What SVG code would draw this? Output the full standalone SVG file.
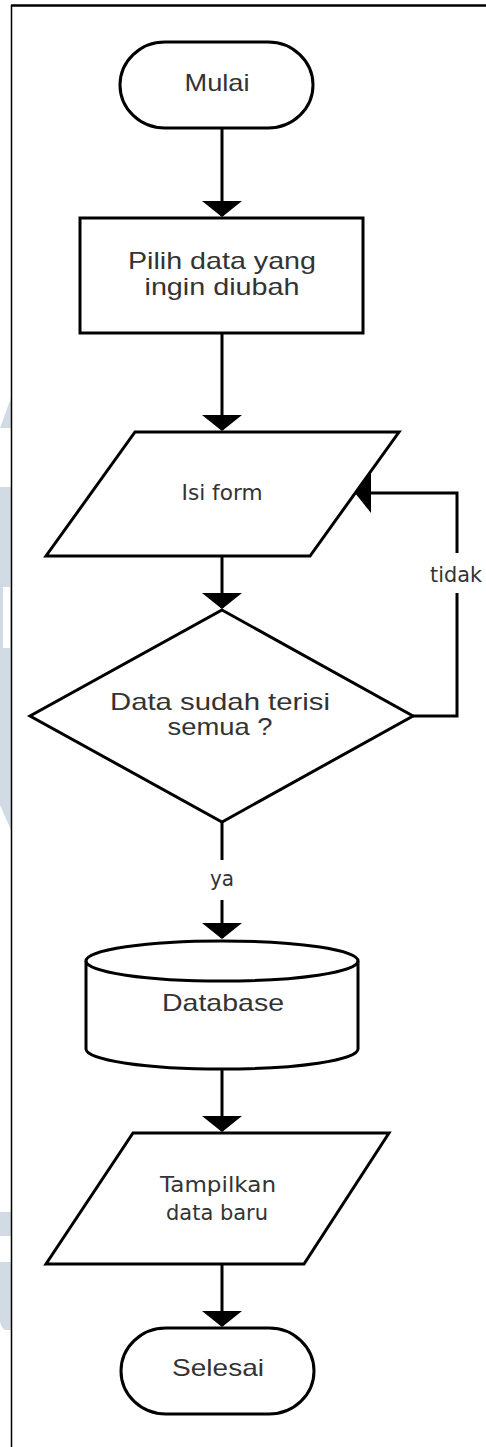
<svg xmlns="http://www.w3.org/2000/svg" width="486" height="1447" viewBox="0 0 486 1447">
  <style>
    .shape { fill: #ffffff; stroke: #000000; stroke-width: 3; }
    .flow { fill: none; stroke: #000000; stroke-width: 3; }
    .lbl { fill: #333333; text-anchor: middle; font-family: "Liberation Sans", Arial, sans-serif; font-size: 24px; }
    .lbl2 { fill: #333333; text-anchor: middle; font-family: "DejaVu Sans", Verdana, sans-serif; font-size: 21px; }
    .wm { fill: #d2dbe4; }
  </style>
  <defs>
    <marker id="head" markerUnits="userSpaceOnUse" viewBox="0 0 16 40" markerWidth="16" markerHeight="40" refX="15" refY="20" orient="auto">
      <path d="M0,0 L16,20 L0,40 Z" fill="#000000"/>
    </marker>
  </defs>

  <rect width="486" height="1447" fill="#ffffff"/>

  <!-- pale backdrop pieces along the left margin -->
  <g id="margin-marks">
    <polygon class="wm" points="0,428 11,398 11,428"/>
    <polygon class="wm" points="0,487 11,487 11,830 0,805"/>
    <rect x="3" y="587" width="7" height="61" fill="#ffffff"/>
    <rect class="wm" x="0" y="1212" width="11" height="24"/>
    <path class="wm" d="M0,1262 H11 V1330 H6 Q2,1330 0,1322 Z"/>
  </g>

  <!-- page frame -->
  <g id="frame">
    <line x1="11" y1="5.5" x2="486" y2="5.5" stroke="#000000" stroke-width="2.5"/>
    <line x1="11.5" y1="5" x2="11.5" y2="1447" stroke="#000000" stroke-width="1.5"/>
  </g>

  <!-- connectors -->
  <g id="connectors">
    <path class="flow" d="M222,128 V216" marker-end="url(#head)"/>
    <path class="flow" d="M222,333 V430" marker-end="url(#head)"/>
    <path class="flow" d="M222,556 V608" marker-end="url(#head)"/>
    <path class="flow" d="M222,822 V860"/>
    <path class="flow" d="M222,900 V938" marker-end="url(#head)"/>
    <path class="flow" d="M222,1069 V1131" marker-end="url(#head)"/>
    <path class="flow" d="M222,1264 V1326" marker-end="url(#head)"/>
    <path class="flow" d="M413,716 H457 V593"/>
    <path class="flow" d="M457,553 V493 H356" marker-end="url(#head)"/>
    <text class="lbl2" x="222" y="886" textLength="24" lengthAdjust="spacingAndGlyphs">ya</text>
    <text class="lbl2" x="456" y="582" textLength="52" lengthAdjust="spacingAndGlyphs">tidak</text>
  </g>

  <g id="start">
    <rect class="shape" x="120" y="42" width="193" height="86" rx="45" ry="43"/>
    <text class="lbl" x="217" y="91" textLength="65" lengthAdjust="spacingAndGlyphs">Mulai</text>
  </g>

  <g id="select-data">
    <rect class="shape" x="80" y="218" width="283" height="115"/>
    <text class="lbl" x="222" y="269" textLength="188" lengthAdjust="spacingAndGlyphs">Pilih data yang</text>
    <text class="lbl" x="222" y="295" textLength="155" lengthAdjust="spacingAndGlyphs">ingin diubah</text>
  </g>

  <g id="fill-form">
    <polygon class="shape" points="135,432 399,432 310,556 46,556"/>
    <text class="lbl2" x="222" y="500" textLength="81" lengthAdjust="spacingAndGlyphs" style="font-size:22px">Isi form</text>
  </g>

  <g id="check-complete">
    <polygon class="shape" points="222,610 413,716 222,822 30,716"/>
    <text class="lbl" x="220" y="710" textLength="220" lengthAdjust="spacingAndGlyphs">Data sudah terisi</text>
    <text class="lbl" x="220" y="735" textLength="105" lengthAdjust="spacingAndGlyphs">semua ?</text>
  </g>

  <g id="database">
    <path class="shape" d="M86,961 V1049 A136,20 0 0 0 358,1049 V961 A136,20 0 0 0 86,961 Z"/>
    <path class="flow" d="M86,961 A136,20 0 0 0 358,961"/>
    <text class="lbl" x="223" y="1011" textLength="122" lengthAdjust="spacingAndGlyphs">Database</text>
  </g>

  <g id="show-data">
    <polygon class="shape" points="133,1133 389,1133 304,1264 46,1264"/>
    <text class="lbl2" x="218" y="1192" textLength="116" lengthAdjust="spacingAndGlyphs">Tampilkan</text>
    <text class="lbl2" x="217" y="1220" textLength="102" lengthAdjust="spacingAndGlyphs">data baru</text>
  </g>

  <g id="end">
    <rect class="shape" x="121" y="1328" width="193" height="86" rx="45" ry="43"/>
    <text class="lbl" x="218" y="1376" textLength="92" lengthAdjust="spacingAndGlyphs">Selesai</text>
  </g>
</svg>
